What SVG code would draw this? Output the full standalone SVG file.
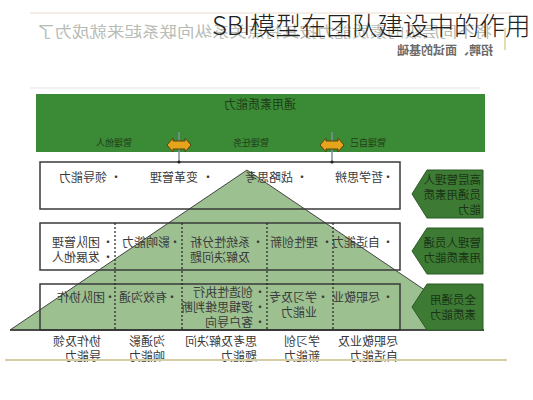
<svg xmlns="http://www.w3.org/2000/svg" width="533" height="400" viewBox="0 0 533 400">
<style>
text{font-family:"Noto Sans CJK SC","Noto Sans",sans-serif}
.t{font-size:12px;fill:#3a3a3a}
.b{font-size:12px;fill:#3a3a3a;text-anchor:middle}
.bar{font-size:9px;fill:#1f3d1a;text-anchor:middle}
.at{font-size:11.5px;fill:#1a3315}
.box{fill:none;stroke:#3a3a3a;stroke-width:1.5}
.fill{fill:#fff}
.dot{stroke:#222;stroke-width:1.2;stroke-dasharray:2 2}
.arr{fill:#3d7b34;stroke:#2a5a25;stroke-width:1}
.conn{stroke:#7f8fa0;stroke-width:1.5}
</style>
<defs>
<path id="dbl" d="M-12,0 L-6,-7 L-6,-4 L6,-4 L6,-7 L12,0 L6,7 L6,4 L-6,4 L-6,7 Z" fill="#e6a41c" stroke="#5e4210" stroke-width="1"/>
</defs>
<rect width="533" height="400" fill="#fff"/>

<g id="header">
<line x1="30" y1="13" x2="512" y2="13" stroke="#ecdccc" stroke-width="1"/>
<g transform="scale(-1,1)">
<text x="-492" y="37" font-size="15" fill="#b7bcb5" textLength="455" lengthAdjust="spacingAndGlyphs">将不同层级的素质能力按其特点关系纵向联系起来就成为了</text>
<text x="-493" y="55" font-size="12" font-weight="bold" fill="#6a6a6a">招聘、面试的基础</text>
</g>
<line x1="505" y1="28" x2="505" y2="50" stroke="#e6dcb0" stroke-width="2"/>
<line x1="30" y1="88" x2="480" y2="88" stroke="#e4e4e4" stroke-width="1"/>
</g>

<g id="bar">
<rect x="36" y="94" width="449" height="58" fill="#3b8a35"/>
<g transform="scale(-1,1)">
<text x="-260" y="109" font-size="12" fill="#1f3d1a" text-anchor="middle">通用素质能力</text>
<text class="bar" x="-114" y="146">管理他人</text>
<text class="bar" x="-251" y="146">管理任务</text>
<text class="bar" x="-368" y="146">管理自己</text>
</g>
</g>

<g id="row-fills">
<rect class="fill" x="40" y="162" width="360" height="47"/>
<rect class="fill" x="40" y="223" width="360" height="47"/>
<rect class="fill" x="40" y="284" width="360" height="46"/>
</g>

<g id="pyramid">
<polygon points="247,170 10,330 484,330" fill="#9dc091" stroke="#444" stroke-width="1"/>
</g>

<g id="row1">
<rect class="box" x="40" y="162" width="360" height="47"/>
<text class="b" x="116" y="182">•</text>
<text class="b" x="208" y="182">•</text>
<text class="b" x="302" y="182">•</text>
<text class="b" x="388" y="182">•</text>
<g transform="scale(-1,1)">
<text class="t" x="-107" y="182">领导能力</text>
<text class="t" x="-198" y="182">变革管理</text>
<text class="t" x="-293" y="182">战略思考</text>
<text class="t" x="-383" y="182">哲学思辨</text>
</g>
</g>

<g id="row2">
<rect class="box" x="40" y="223" width="360" height="47"/>
<text class="b" x="108" y="247">•</text>
<text class="b" x="108" y="262">•</text>
<text class="b" x="175" y="247">•</text>
<text class="b" x="258" y="247">•</text>
<text class="b" x="327" y="247">•</text>
<text class="b" x="388" y="247">•</text>
<g transform="scale(-1,1)">
<text class="t" x="-100" y="247">团队管理</text>
<text class="t" x="-100" y="262">发展他人</text>
<text class="t" x="-170" y="247">影响能力</text>
<text class="t" x="-250" y="247">系统性分析</text>
<text class="t" x="-250" y="262">及解决问题</text>
<text class="t" x="-318" y="247">理性创新</text>
<text class="t" x="-380" y="247">自适能力</text>
</g>
</g>

<g id="row3">
<rect class="box" x="40" y="284" width="360" height="46"/>
<text class="b" x="110" y="302">•</text>
<text class="b" x="172" y="302">•</text>
<text class="b" x="260" y="297">•</text>
<text class="b" x="260" y="312">•</text>
<text class="b" x="260" y="327">•</text>
<text class="b" x="323" y="302">•</text>
<text class="b" x="388" y="302">•</text>
<g transform="scale(-1,1)">
<text class="t" x="-105" y="302">团队协作</text>
<text class="t" x="-167" y="302">有效沟通</text>
<text class="t" x="-253" y="297">创造性执行</text>
<text class="t" x="-253" y="312">逻辑思维判断</text>
<text class="t" x="-253" y="327">客户导向</text>
<text class="t" x="-317" y="302">学习及专</text>
<text class="t" x="-317" y="317">业能力</text>
<text class="t" x="-380" y="302">尽职敬业</text>
</g>
</g>

<g id="dividers">
<line class="dot" x1="115" y1="223" x2="115" y2="330"/>
<line class="dot" x1="182" y1="223" x2="182" y2="330"/>
<line class="dot" x1="267" y1="223" x2="267" y2="330"/>
<line class="dot" x1="333" y1="223" x2="333" y2="330"/>
<line x1="10" y1="330" x2="484" y2="330" stroke="#333" stroke-width="1.5"/>
</g>

<g id="level-top">
<path class="arr" d="M412,194 L427,170 L483,170 L483,218 L427,218 Z"/>
<g transform="scale(-1,1)">
<text class="at" x="-481" y="184">高层管理人</text>
<text class="at" x="-481" y="199">员通用素质</text>
<text class="at" x="-481" y="214">能力</text>
</g>
</g>
<g id="level-mid">
<path class="arr" d="M412,251 L427,228 L483,228 L483,274 L427,274 Z"/>
<g transform="scale(-1,1)">
<text class="at" x="-481" y="247">管理人员通</text>
<text class="at" x="-481" y="262">用素质能力</text>
</g>
</g>
<g id="level-all">
<path class="arr" d="M412,307 L427,284 L483,284 L483,330 L427,330 Z"/>
<g transform="scale(-1,1)">
<text class="at" x="-476" y="304">全员通用</text>
<text class="at" x="-476" y="319">素质能力</text>
</g>
</g>

<g id="connectors">
<line class="conn" x1="179" y1="132" x2="179" y2="162"/>
<line class="conn" x1="332" y1="132" x2="332" y2="162"/>
<use href="#dbl" x="179" y="145"/>
<use href="#dbl" x="332" y="145"/>
<circle cx="179" cy="162" r="1.6" fill="#222"/>
<circle cx="332" cy="162" r="1.6" fill="#222"/>
</g>

<g id="bottom-labels">
<g transform="scale(-1,1)">
<text class="t" x="-101" y="346">协作及领</text>
<text class="t" x="-101" y="361">导能力</text>
<text class="t" x="-165" y="346">沟通影</text>
<text class="t" x="-165" y="361">响能力</text>
<text class="t" x="-257" y="346">思考及解决问</text>
<text class="t" x="-257" y="361">题能力</text>
<text class="t" x="-320" y="346">学习创</text>
<text class="t" x="-320" y="361">新能力</text>
<text class="t" x="-398" y="346">尽职敬业及</text>
<text class="t" x="-398" y="361">自适能力</text>
</g>
<line x1="5" y1="360" x2="507" y2="360" stroke="#d6cda4" stroke-width="2"/>
</g>

<g id="title">
<text x="212" y="35" font-size="25.5" font-weight="300" fill="#222">SBI模型在团队建设中的作用</text>
</g>
</svg>
